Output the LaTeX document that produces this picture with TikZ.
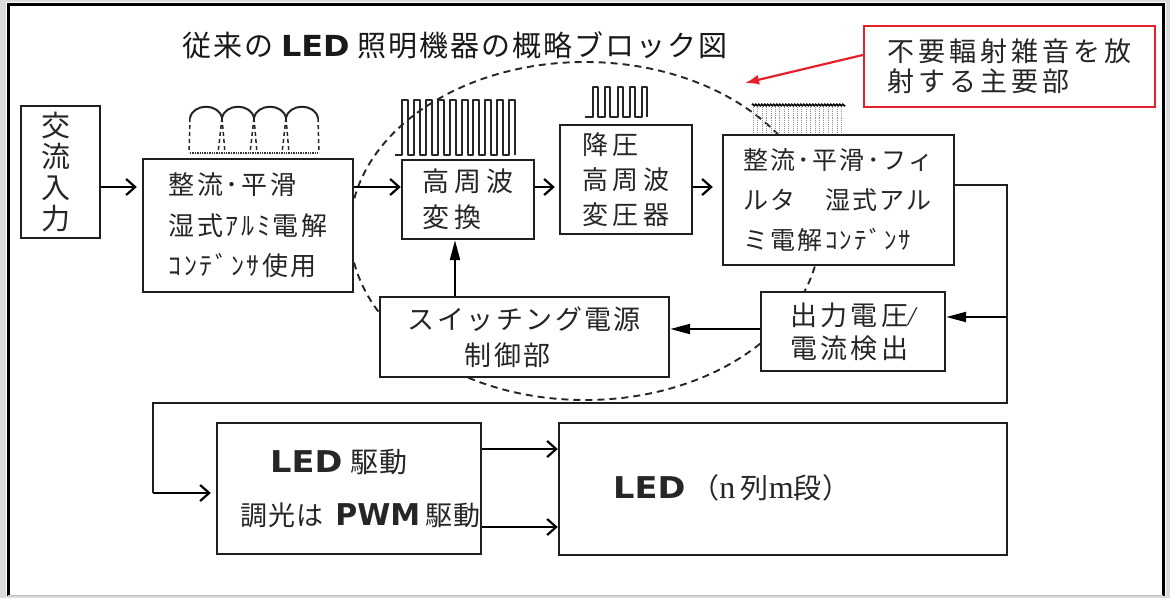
\documentclass[tikz,border=0pt]{standalone}
\usepackage{graphicx}
\usepackage{fontspec}
\setmainfont{Noto Sans CJK JP}
\newfontfamily\ledfont{DejaVu Sans}
\newfontfamily\latinser{Liberation Serif}
\usetikzlibrary{arrows.meta,decorations.pathmorphing}
\newcommand\ledword[2][1.12]{{\ledfont\bfseries\scalebox{#1}[1]{#2}}}
\newcommand\jfs[3]{\fontsize{#1}{#2}\selectfont\addfontfeatures{LetterSpace=#3}}
\definecolor{txt}{gray}{0.15}
\definecolor{noisered}{RGB}{228,32,40}
\begin{document}
\begin{tikzpicture}[x=1pt,y=-1pt,
  blk/.style={draw=black!88, line width=2.4pt, fill=white, inner sep=0pt, text=txt, align=left},
  lbl/.style={inner sep=0pt, text=txt},
  openar/.style={line width=2.2pt, -{Straight Barb[length=9pt,width=16pt]}},
  fillar/.style={line width=2.2pt, -{Triangle[length=20pt,width=10pt]}},
  wave/.style={line width=2pt, black!85},
  loopline/.style={line width=2.2pt, black!88},
  halo/.style={dashed, dash pattern=on 7pt off 5pt, line width=1.9pt, black!85}]
\useasboundingbox (0,0) rectangle (1170,598);
\fill[gray!28] (0,0) rectangle (1170,598);
\fill[white] (6,2) rectangle (1166,596);
\draw[line width=3pt] (8,596) -- (8,4) -- (1163,4) -- (1163,596);
\draw[line width=1pt, gray!50] (8,595) -- (1163,595);

% title
\node[lbl, text=black!90, font=\jfs{29}{29}{7}] (title) at (455,45) {従来の\hspace{8pt}\ledword[1.1]{LED}\hspace{8pt}照明機器の概略ブロック図};

% dashed halo (main radiating region)
\draw[halo] (585,231) ellipse [x radius=235, y radius=169];

% noise patch above filter box
\foreach \i in {0,...,20} {
  \draw[gray!85, densely dotted, line width=0.9pt] ({753.5+4.4*\i},107) -- ({753.5+4.4*\i},133);
}
\draw[line width=1.4pt, decorate, decoration={zigzag, segment length=3pt, amplitude=0.9pt}] (752,105) -- (845,105);

% rectified ripple waveform
\foreach \k in {0,...,3} {
  \draw[wave] ({190+32*\k},118) .. controls ({193+32*\k},103) and ({219+32*\k},103) .. ({222+32*\k},118);
}
\draw[wave, line width=1.5pt, dash pattern=on 4pt off 3pt] (190,118) -- (189,153);
\draw[wave, line width=1.5pt, dash pattern=on 4pt off 3pt] (318,118) -- (319,153);
\foreach \d in {222,254,286} {
  \draw[wave, line width=1.5pt, dash pattern=on 4pt off 3pt] (\d,118) -- ({\d-4},153);
  \draw[wave, line width=1.5pt, dash pattern=on 4pt off 3pt] (\d,118) -- ({\d+3},153);
}
\draw[black!80, line width=1.4pt, densely dotted] (190,153) -- (318,153);

% high-frequency square wave
\draw[wave, line join=round] (395,155) \foreach \i in {0,...,9} { -- ({402+11.9*\i},155) -- ({402+11.9*\i},100) -- ({408+11.9*\i},100) -- ({408+11.9*\i},155) };

% step-down square wave
\draw[wave, line join=round] (585,117) \foreach \i in {0,...,4} { -- ({593+12.25*\i},117) -- ({593+12.25*\i},87) -- ({598+12.25*\i},87) -- ({598+12.25*\i},117) };

% boxes
\node[blk, minimum width=79, minimum height=132, align=center, font=\jfs{29}{31}{0}] (ac) at (60.5,172) {\hspace*{-9pt}交\\\hspace*{-9pt}流\\\hspace*{-9pt}入\\\hspace*{-9pt}力};
\node[blk, minimum width=210, minimum height=133, font=\jfs{26}{40.5}{10}] (rect) at (248,225.5) {整流･平滑\\湿式ｱﾙﾐ電解\\ｺﾝﾃﾞﾝｻ使用};
\node[blk, minimum width=132, minimum height=79, font=\jfs{27}{36}{20}] (hf) at (468,199.5) {高周波\\変換};
\node[blk, minimum width=132, minimum height=109, font=\jfs{26}{35}{18}] (down) at (626,179.5) {\raisebox{-5pt}{降圧}\\[0pt]\raisebox{-5pt}{高周波}\\\raisebox{-5pt}{変圧器}};
\node[blk, minimum width=231, minimum height=130, font=\jfs{25}{40}{9}] (flt) at (838.5,200) {整流･平滑･フィ\\ルタ　湿式アル\\ミ電解ｺﾝﾃﾞﾝｻ};
\node[blk, minimum width=184, minimum height=79, font=\jfs{27}{33}{12}] (det) at (853,331.5) {出力電圧{\latinser\itshape /}\\電流検出};
\node[blk, minimum width=289, minimum height=80, font=\jfs{27}{36}{9}] (sw) at (524.5,337) {スイッチング電源\\\hspace*{2.1em}制御部};
\node[blk, minimum width=264, minimum height=131] (drv) at (349,488.5) {};
\node[blk, minimum width=448, minimum height=132] (ledbox) at (783,489) {};
\node[lbl, anchor=west, font=\jfs{28}{28}{4}] (drvt1) at (270,462) {\ledword[1.12]{\fontsize{30}{30}\selectfont LED}\hspace{8pt}駆動};
\node[lbl, anchor=west, font=\jfs{27}{27}{4}] (drvt2) at (240,515) {調光は\hspace{12pt}{\ledfont\bfseries\fontsize{30}{30}\selectfont PWM}\hspace{5pt}駆動};
\node[lbl, anchor=west, font=\jfs{28}{28}{4}] (ledt) at (613,488) {\ledword[1.12]{\fontsize{30}{30}\selectfont LED}\hspace{6pt}（{\latinser\fontsize{32}{32}\selectfont n\,}列{\latinser\fontsize{32}{32}\selectfont m}段）};

% red annotation
\node[draw=noisered, line width=2.4pt, fill=white, minimum width=291, minimum height=81, inner sep=0pt, align=left, text=txt, font=\jfs{27}{30}{15}] (note) at (1009.5,66.5) {不要輻射雑音を放\\射する主要部};
\coordinate (noisept) at (745,83);
\draw[noisered, line width=2.2pt, -{Latex[length=14pt,width=10pt]}] (note.west |- 0,55) -- (noisept);

% forward chain
\draw[openar] (ac.east |- 0,187) -- ([xshift=-5pt]rect.west |- 0,187);
\draw[openar] (rect.east |- 0,187) -- (hf.west |- 0,187);
\draw[openar] (hf.east |- 0,187) -- ([xshift=-4pt]down.west |- 0,187);
\draw[openar] (down.east |- 0,187) -- ([xshift=-9pt]flt.west |- 0,187);

% output loop
\coordinate (c1) at (1007,185);
\coordinate (c2) at (1007,403);
\coordinate (c3) at (153,403);
\coordinate (c4) at (153,493);
\draw[loopline] (flt.east |- c1) -- (c1) -- (c2) -- (c3) -- (c4);
\draw[openar] (c4) -- ([xshift=-5pt]drv.west |- c4);
\coordinate (c5) at (1007,317);
\draw[fillar] (c5) -- (det.east |- c5);
\draw[fillar] (det.west |- 0,329) -- (sw.east |- 0,329);
\draw[fillar] (sw.north -| 455,0) -- (hf.south -| 455,0);

% drive to LED
\draw[openar] (drv.east |- 0,449) -- (ledbox.west |- 0,449);
\draw[openar] (drv.east |- 0,527) -- (ledbox.west |- 0,527);
\end{tikzpicture}
\end{document}
